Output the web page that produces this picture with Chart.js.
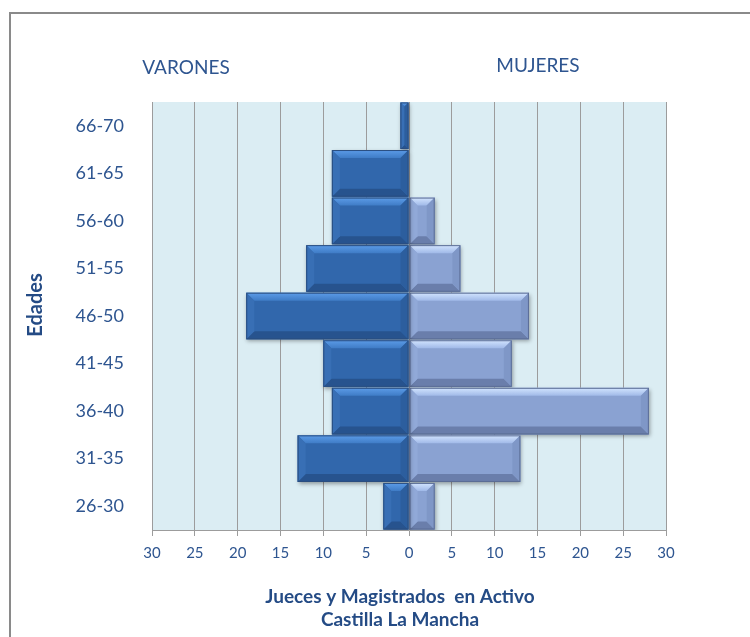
<!DOCTYPE html>
<html>
<head>
<meta charset="utf-8">
<script src="https://cdn.jsdelivr.net/npm/chart.js@4.4.1/dist/chart.umd.min.js"></script>
<style>
  html, body { margin: 0; padding: 0; background: #fff; }
  #wrap { width: 750px; height: 637px; position: relative; }
</style>
</head>
<body>
<div id="wrap"><canvas id="pyramid"></canvas></div>
<script>
/* global Chart */

const ageGroups = ['66-70', '61-65', '56-60', '51-55', '46-50', '41-45', '36-40', '31-35', '26-30'];
const varones = [1, 9, 9, 12, 19, 10, 9, 13, 3];
const mujeres = [0, 0, 3, 6, 14, 12, 28, 13, 3];
const axisMin = -30;
const axisMax = 30;
const axisStep = 5;

const textBlue = '#2e5590';
const titleBlue = '#244b85';
const gridGrey = '#9c9c9c';

const menShades = {
  base: '#3167ac', topA: '#5c9ce8', topB: '#3f7cc6', bottom: '#27538e',
  left: '#386fb5', right: '#2c5e9e', edge: '#2a4e80',
};
const womenShades = {
  base: '#8aa2d2', topA: '#d3e5ff', topB: '#a0b9e8', bottom: '#6a7eab',
  left: '#91a9d8', right: '#7f97c7', edge: '#5b6d95',
};

function poly(ctx, pts, fill) {
  ctx.beginPath();
  ctx.moveTo(pts[0][0], pts[0][1]);
  for (let i = 1; i < pts.length; i++) ctx.lineTo(pts[i][0], pts[i][1]);
  ctx.closePath();
  ctx.fillStyle = fill;
  ctx.fill();
}

function drawBevel(ctx, el, s) {
  const left = Math.min(el.x, el.base);
  const right = Math.max(el.x, el.base);
  const top = el.y - el.height / 2;
  const bottom = el.y + el.height / 2;
  const w = right - left;
  const h = bottom - top;
  if (w < 1) return;
  const b = Math.min(8, w / 2, h / 2);

  const grad = ctx.createLinearGradient(0, top, 0, top + b);
  grad.addColorStop(0, s.topA);
  grad.addColorStop(1, s.topB);
  poly(ctx, [[left, top], [right, top], [right - b, top + b], [left + b, top + b]], grad);
  poly(ctx, [[left, bottom], [right, bottom], [right - b, bottom - b], [left + b, bottom - b]], s.bottom);
  poly(ctx, [[left, top], [left + b, top + b], [left + b, bottom - b], [left, bottom]], s.left);
  poly(ctx, [[right, top], [right - b, top + b], [right - b, bottom - b], [right, bottom]], s.right);

  ctx.strokeStyle = s.edge;
  ctx.lineWidth = 1;
  ctx.strokeRect(left + 0.5, top + 0.5, w - 1, h - 1);
}

const frameAndBackground = {
  id: 'frameAndBackground',
  beforeDraw(chart) {
    const { ctx, chartArea } = chart;
    ctx.save();
    ctx.fillStyle = '#ffffff';
    ctx.fillRect(0, 0, chart.width, chart.height);
    ctx.strokeStyle = '#8a8a8a';
    ctx.lineWidth = 2;
    ctx.beginPath();
    ctx.moveTo(10, chart.height);
    ctx.lineTo(10, 13);
    ctx.lineTo(chart.width, 13);
    ctx.stroke();
    ctx.fillStyle = '#dbedf3';
    ctx.fillRect(chartArea.left, chartArea.top, chartArea.right - chartArea.left, chartArea.bottom - chartArea.top);
    ctx.restore();
  },
};

const bevelBars = {
  id: 'bevelBars',
  beforeDatasetDraw(chart) {
    const ctx = chart.ctx;
    ctx.save();
    ctx.shadowColor = 'rgba(0,0,0,0.35)';
    ctx.shadowBlur = 4;
    ctx.shadowOffsetX = 1;
    ctx.shadowOffsetY = 2;
  },
  afterDatasetDraw(chart, args) {
    const ctx = chart.ctx;
    ctx.restore();
    const shades = args.index === 0 ? menShades : womenShades;
    ctx.save();
    args.meta.data.forEach((el) => drawBevel(ctx, el, shades));
    ctx.restore();
  },
};

const labelsPlugin = {
  id: 'labelsPlugin',
  afterDraw(chart) {
    const ctx = chart.ctx;
    ctx.save();
    ctx.textAlign = 'center';
    ctx.textBaseline = 'middle';

    ctx.fillStyle = textBlue;
    ctx.font = '19px Lato';
    ctx.fillText('VARONES', 186, 68);
    ctx.fillText('MUJERES', 538, 66);

    ctx.fillStyle = titleBlue;
    ctx.font = 'bold 19px Lato';
    ctx.fillText('Jueces y Magistrados  en Activo', 400, 597);
    ctx.fillText('Castilla La Mancha', 400, 620);

    ctx.translate(36, 305);
    ctx.rotate(-Math.PI / 2);
    ctx.font = 'bold 20px Lato';
    ctx.fillText('Edades', 0, 0);
    ctx.restore();
  },
};

const ctx = document.getElementById('pyramid').getContext('2d');

new Chart(ctx, {
  type: 'bar',
  data: {
    labels: ageGroups,
    datasets: [
      {
        label: 'Varones',
        data: varones.map((v) => -v),
        backgroundColor: menShades.base,
        borderWidth: 0,
        barPercentage: 0.98,
        categoryPercentage: 1,
      },
      {
        label: 'Mujeres',
        data: mujeres,
        backgroundColor: womenShades.base,
        borderWidth: 0,
        barPercentage: 0.98,
        categoryPercentage: 1,
      },
    ],
  },
  options: {
    indexAxis: 'y',
    responsive: true,
    maintainAspectRatio: false,
    animation: false,
    layout: { padding: { left: 0, top: 102, right: 84, bottom: 0 } },
    plugins: {
      legend: { display: false },
      tooltip: { enabled: false },
    },
    scales: {
      x: {
        stacked: true,
        min: axisMin,
        max: axisMax,
        ticks: {
          stepSize: axisStep,
          callback: (value) => Math.abs(value),
          color: textBlue,
          font: { family: 'Lato', size: 15 },
          padding: 8,
          maxRotation: 0,
        },
        grid: { color: gridGrey, lineWidth: 1, tickLength: 6, drawTicks: true },
        border: { color: gridGrey },
        afterFit: (scale) => { scale.height = 107; },
      },
      y: {
        stacked: true,
        grid: { display: false },
        border: { display: true, color: gridGrey },
        ticks: {
          color: textBlue,
          font: { family: 'Lato', size: 18 },
          padding: 20,
        },
        afterFit: (scale) => { scale.width = 152; },
      },
    },
  },
  plugins: [frameAndBackground, bevelBars, labelsPlugin],
});
</script>
</body>
</html>
